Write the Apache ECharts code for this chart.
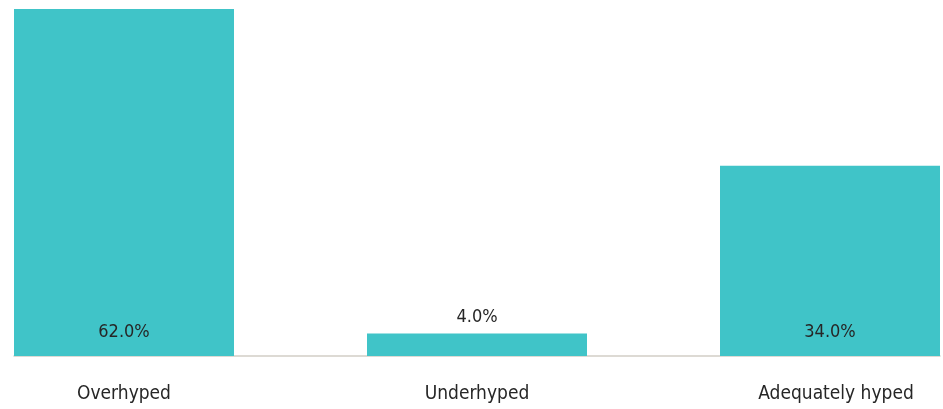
<!DOCTYPE html>
<html>
<head>
<meta charset="utf-8">
<script src="https://cdn.jsdelivr.net/npm/echarts@6/dist/echarts.min.js"></script>
<style>
  html, body { margin: 0; padding: 0; background: #fff; }
  #chart { width: 943px; height: 409px; }
</style>
</head>
<body>
<div id="chart"></div>
<script>
// Survey responses: share of answers per category (percent)
const categories = ['Overhyped', 'Underhyped', 'Adequately hyped'];
const shares = [62.0, 4.0, 34.0];
const positions = [0, 1, 2];

const FONT = '"Liberation Sans Narrow", "DejaVu Sans Condensed", "Liberation Sans", sans-serif';
const TEAL = '#40C4C8';
const TEXT = '#262626';

// Bar geometry: outer bars sit flush with the ends of the baseline
const BAR_PX = 220;
const PLOT_PX = 943 - 14 - 3;
const GAP_PX = (PLOT_PX - BAR_PX * positions.length) / (positions.length - 1);
const unitPx = BAR_PX + GAP_PX;
const pad = (BAR_PX / 2) / unitPx;

// Small bars get their label above the bar, the rest inside near the base
const barData = positions.map((x, i) => ({
  value: [x, shares[i]],
  label: shares[i] < 10
    ? { position: 'top', distance: 7 }
    : { position: 'insideBottom', distance: 15 }
}));

const chart = echarts.init(document.getElementById('chart'), null, { renderer: 'canvas' });
chart.setOption({
  animation: false,
  grid: { left: 14, right: 3, top: 9, bottom: 53 },
  xAxis: {
    type: 'value',
    min: -pad,
    max: positions.length - 1 + pad,
    axisLine: { show: true, lineStyle: { color: '#d2cec6', width: 1.5 } },
    axisTick: { show: false },
    splitLine: { show: false },
    axisLabel: {
      customValues: positions,
      margin: 29,
      fontFamily: FONT,
      fontSize: 19,
      color: TEXT,
      // the last category name sits slightly right of its bar centre
      formatter: v => {
        const i = Math.round(v);
        return i === positions.length - 1 ? '{last|' + categories[i] + '}' : categories[i];
      },
      rich: {
        last: { fontFamily: FONT, fontSize: 19, color: TEXT, padding: [0, 0, 0, 12] }
      }
    }
  },
  yAxis: { type: 'value', min: 0, max: 62, show: false },
  series: [{
    type: 'bar',
    data: barData,
    barWidth: BAR_PX,
    itemStyle: { color: TEAL },
    label: {
      show: true,
      fontFamily: FONT,
      fontSize: 18,
      color: TEXT,
      formatter: p => p.value[1].toFixed(1) + '%'
    }
  }]
});
</script>
</body>
</html>
